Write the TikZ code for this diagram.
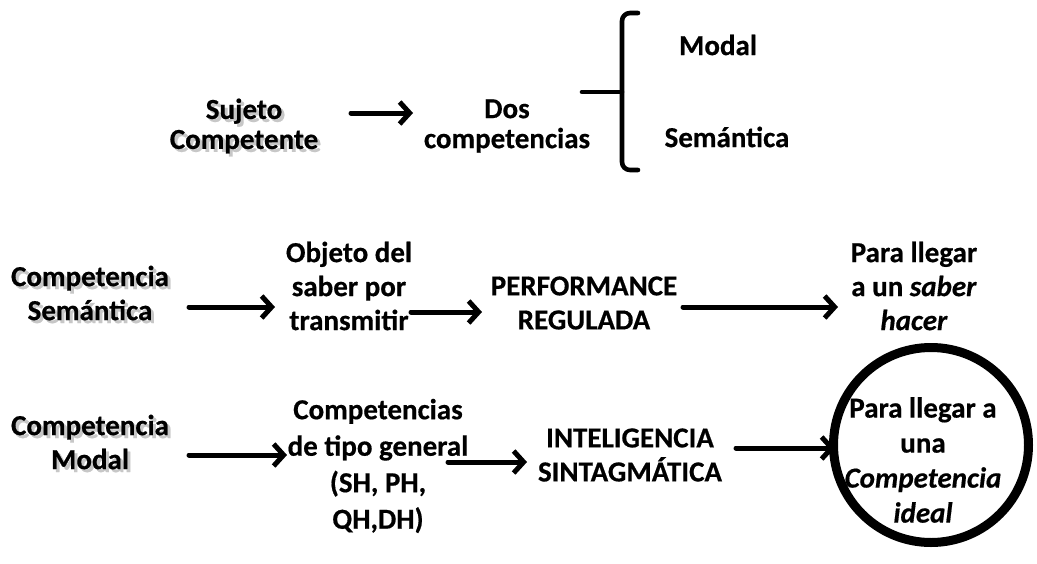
\documentclass[tikz,border=0pt]{standalone}
\usepackage{fontspec}
\setmainfont{Carlito}[BoldFeatures={FakeBold=0.5},BoldItalicFeatures={FakeBold=0.5}]
\usetikzlibrary{arrows.meta}
\begin{document}
\begin{tikzpicture}[x=1pt,y=-1pt,
  lbl/.style={align=center,inner sep=0pt,font=\bfseries\fontsize{29}{34}\selectfont},
  tight/.style={font=\bfseries\fontsize{29}{30}\selectfont},
  shd/.style={text=black!22},
  arr/.style={line width=5pt,line cap=round,-{Straight Barb[length=10pt,width=22pt]}},
  brace/.style={line width=4.6pt,line cap=round,line join=round}]
\useasboundingbox (0,0) rectangle (1037,563);
% top row
\node[lbl,tight,shd] at (247,129) {Sujeto\\Competente};
\node[lbl,tight] (sc) at (244,126) {Sujeto\\Competente};
\node[lbl,tight] (dc) at (507,126) {Dos\\competencias};
\coordinate (a0s) at (351,113);
\coordinate (a0e) at (413,113);
\draw[arr] (a0s) -- (a0e);
% brace
\coordinate (bt) at (638,13);
\coordinate (bb) at (638,170);
\coordinate (bm) at (582,92);
\draw[brace,rounded corners=8pt] (bt) -- (622,13) -- (622,170) -- (bb);
\draw[brace] (bm) -- (622,92);
\node[lbl] (mo) at (718,45) {Modal};
\node[lbl] (se) at (727,137) {Semántica};
% row 2
\node[lbl,shd] at (93,296) {Competencia\\Semántica};
\node[lbl] (cs) at (90,293) {Competencia\\Semántica};
\node[lbl] (ob) at (349,286) {Objeto del\\saber por\\transmitir};
\node[lbl] (pr) at (584,303) {PERFORMANCE\\REGULADA};
\node[lbl] (pl) at (914,286) {Para llegar\\a un \textit{saber}\\\textit{hacer}};
\coordinate (a1s) at (189,307); \coordinate (a1e) at (275,307);
\coordinate (a2s) at (411,312); \coordinate (a2e) at (482,312);
\coordinate (a3s) at (683,307); \coordinate (a3e) at (838,307);
\draw[arr] (a1s) -- (a1e);
\draw[arr] (a2s) -- (a2e);
\draw[arr] (a3s) -- (a3e);
% row 3
\node[lbl,shd] at (93,445) {Competencia\\Modal};
\node[lbl] (cm) at (90,442) {Competencia\\Modal};
\node[lbl,font=\bfseries\fontsize{29}{36.5}\selectfont] (ct) at (378,466) {Competencias\\de tipo general\\(SH, PH,\\QH,DH)};
\node[lbl] (is) at (630,455) {INTELIGENCIA\\SINTAGMÁTICA};
\node[circle,draw,line width=9pt,minimum size=195pt,inner sep=0pt] (ci) at (931,445) {};
\node[lbl,font=\bfseries\fontsize{29}{35}\selectfont] (ct2) at (923,460) {Para llegar a\\una\\\textit{Competencia}\\\textit{ideal}};
\coordinate (b1s) at (189,455); \coordinate (b1e) at (287,455);
\coordinate (b2s) at (448,462); \coordinate (b2e) at (527,462);
\coordinate (b3s) at (736,448); \coordinate (b3e) at (835,448);
\draw[arr] (b1s) -- (b1e);
\draw[arr] (b2s) -- (b2e);
\draw[arr] (b3s) -- (b3e);
\end{tikzpicture}
\end{document}
